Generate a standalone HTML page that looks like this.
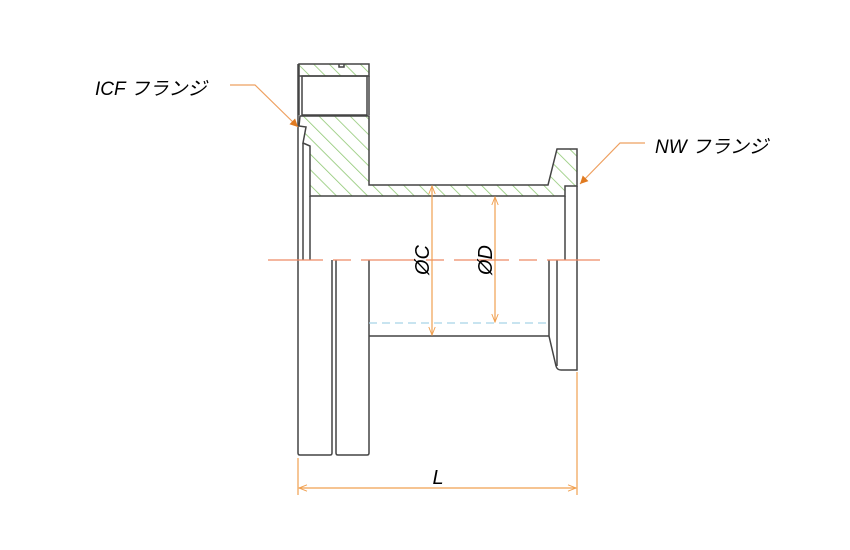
<!DOCTYPE html>
<html><head><meta charset="utf-8"><style>
html,body{margin:0;padding:0;background:#fff;width:850px;height:550px;overflow:hidden}
svg{display:block}
text{font-family:"Liberation Sans","Noto Sans CJK JP",sans-serif}
</style></head><body>
<svg width="850" height="550" viewBox="0 0 850 550" xmlns="http://www.w3.org/2000/svg">
<defs>
<pattern id="h" patternUnits="userSpaceOnUse" width="11" height="11" patternTransform="rotate(-45)">
<line x1="0" y1="0" x2="0" y2="11" stroke="#8fc873" stroke-width="1.6"/>
</pattern>
<marker id="a" viewBox="0 0 10 10" refX="10" refY="5" markerWidth="10" markerHeight="8" orient="auto-start-reverse" markerUnits="userSpaceOnUse">
<path d="M0,1 L10,5 L0,9" fill="none" stroke="#f0a050" stroke-width="1.2"/>
</marker>
<marker id="f" viewBox="0 0 10 10" refX="10" refY="5" markerWidth="14" markerHeight="8" orient="auto" markerUnits="userSpaceOnUse">
<path d="M0,0 L10,5 L0,10 Z" fill="#e07a20"/>
</marker>
</defs>
<g fill="none" stroke="#444" stroke-width="1.5">
<rect x="299" y="64" width="70" height="12" fill="url(#h)"/>
<path d="M339,64 v3 h5 v-3" />
<rect x="302" y="76" width="65" height="39"/>
<line x1="299" y1="76" x2="299" y2="115"/>
<line x1="369" y1="76" x2="369" y2="115"/>
<path d="M300,116 L369,116 L369,185 L548,185 L557,149 L577,149 L577,186 L565,186 L565,196 L310,196 L310,146 L303,143 L306,127 L299,126 Z" fill="url(#h)"/>
<line x1="298" y1="64" x2="298" y2="260"/>
<line x1="303" y1="143" x2="303" y2="260"/>
<line x1="310" y1="196" x2="310" y2="260"/>
<line x1="565" y1="196" x2="565" y2="260"/>
<line x1="577" y1="186" x2="577" y2="260"/>
<path d="M298,260 V453 Q298,455 300,455 H330 Q332,455 332,453 V260"/>
<path d="M336,260 V453 Q336,455 338,455 H367 Q369,455 369,453 V260"/>
<line x1="369" y1="336" x2="549" y2="336"/>
<path d="M549,260 V336 L556,366 Q557,370 561,370 H577 V260"/>
<line x1="557" y1="260" x2="557" y2="366"/>
</g>
<line x1="268" y1="260" x2="600" y2="260" stroke="#ee8a66" stroke-width="1.3" stroke-dasharray="55,10,18,10"/>
<line x1="369" y1="323" x2="549" y2="323" stroke="#a8d4e8" stroke-width="1.3" stroke-dasharray="8,5"/>
<g stroke="#f0a050" stroke-width="1.2" fill="none">
<line x1="432" y1="186" x2="432" y2="335" marker-start="url(#a)" marker-end="url(#a)"/>
<line x1="495" y1="197" x2="495" y2="322" marker-start="url(#a)" marker-end="url(#a)"/>
<line x1="298" y1="458" x2="298" y2="495"/>
<line x1="577" y1="372" x2="577" y2="495"/>
<line x1="299" y1="488" x2="576" y2="488" marker-start="url(#a)" marker-end="url(#a)"/>
<polyline points="230,85 255,85 298,127" marker-end="url(#f)" stroke="#eea060"/>
<polyline points="645,143 620,143 580,184" marker-end="url(#f)" stroke="#eea060"/>
</g>
<text x="0" y="0" font-size="20" font-style="italic" transform="translate(429,260) rotate(-90)" text-anchor="middle">ØC</text>
<text x="0" y="0" font-size="20" font-style="italic" transform="translate(492,260) rotate(-90)" text-anchor="middle">ØD</text>
<text x="438" y="484" font-size="20" font-style="italic" text-anchor="middle">L</text>
<text x="95" y="95" font-size="19" font-style="italic">ICF フランジ</text>
<text x="655" y="153" font-size="19" font-style="italic">NW フランジ</text>
</svg>
</body></html>
